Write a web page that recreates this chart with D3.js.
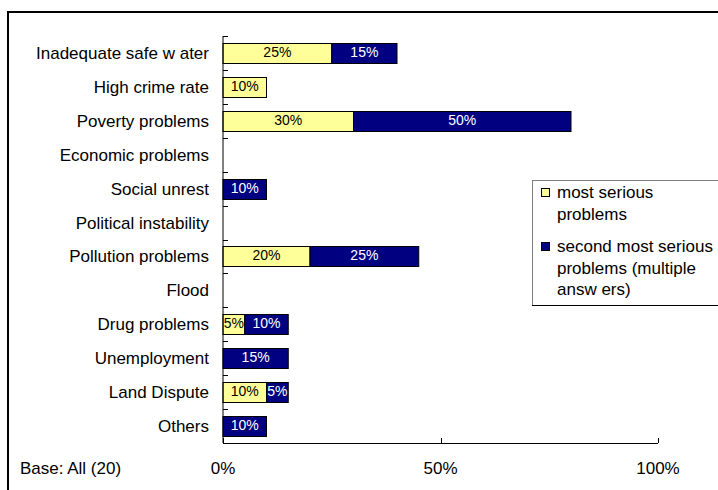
<!DOCTYPE html>
<html>
<head>
<meta charset="utf-8">
<script src="https://cdn.jsdelivr.net/npm/d3@7"></script>
<style>
  body { margin: 0; background: #fff; }
  svg { display: block; font-family: "Liberation Sans", Arial, sans-serif; }
</style>
</head>
<body>
<div id="chart"></div>
<script>
// categories, top to bottom
const categories = [
    'Inadequate safe w ater', 'High crime rate', 'Poverty problems', 'Economic problems',
    'Social unrest', 'Political instability', 'Pollution problems', 'Flood',
    'Drug problems', 'Unemployment', 'Land Dispute', 'Others'
];
// most serious problems (%)
const mostSerious = [25, 10, 30, 0, 0, 0, 20, 0, 5, 0, 10, 0];
// second most serious problems (%)
const secondSerious = [15, 0, 50, 0, 10, 0, 25, 0, 10, 15, 5, 10];
const xTicks = [0, 50, 100];
const seriesNames = [['most serious', 'problems'], ['second most serious', 'problems (multiple', 'answ ers)']];
const note = 'Base: All (20)';

const width = 718;
const height = 490;
const plotLeft = 223, plotRight = 658, plotTop = 36, plotBottom = 443;
const colors = ['#FFFF99', '#000080'];
const labelColors = ['#000', '#fff'];

const svg = d3.select('#chart')
    .append('svg')
    .attr('width', width)
    .attr('height', height);

// outer frame (cut off at right and bottom)
svg.append('rect')
    .attr('x', 8).attr('y', 12)
    .attr('width', 740).attr('height', 520)
    .attr('fill', 'none')
    .attr('stroke', '#000')
    .attr('stroke-width', 2);

const xScale = d3.scaleLinear().domain([0, 100]).range([plotLeft, plotRight]);
const yScale = d3.scaleBand()
    .domain(categories)
    .range([plotTop, plotBottom])
    .paddingInner(0.41)
    .paddingOuter(0.205);
const step = yScale.step();

// stacked data
const rows = categories.map((c, i) => ({ cat: c, vals: [mostSerious[i], secondSerious[i]] }));
const segs = [];
rows.forEach(r => {
    let x0 = 0;
    r.vals.forEach((v, k) => {
        if (v > 0) segs.push({ cat: r.cat, k: k, x0: x0, x1: x0 + v, v: v });
        x0 += v;
    });
});

svg.selectAll('rect.seg')
    .data(segs)
    .enter()
    .append('rect')
    .classed('seg', true)
    .attr('x', d => xScale(d.x0))
    .attr('y', d => Math.round(yScale(d.cat)) + 0.5)
    .attr('width', d => xScale(d.x1) - xScale(d.x0))
    .attr('height', Math.round(yScale.bandwidth()))
    .attr('fill', d => colors[d.k])
    .attr('stroke', '#000')
    .attr('stroke-width', 1);

svg.selectAll('text.seg-label')
    .data(segs)
    .enter()
    .append('text')
    .classed('seg-label', true)
    .attr('x', d => (xScale(d.x0) + xScale(d.x1)) / 2)
    .attr('y', d => yScale(d.cat) + yScale.bandwidth() / 2 + 4)
    .attr('text-anchor', 'middle')
    .attr('font-size', 14)
    .attr('fill', d => labelColors[d.k])
    .text(d => d.v + '%');

// category axis
const yAxis = svg.append('g');
yAxis.append('line')
    .attr('x1', plotLeft).attr('x2', plotLeft)
    .attr('y1', plotTop).attr('y2', plotBottom)
    .attr('stroke', '#000');
yAxis.selectAll('line.tick')
    .data(categories)
    .enter()
    .append('line')
    .classed('tick', true)
    .attr('x1', plotLeft).attr('x2', plotLeft + 5)
    .attr('y1', d => Math.round(yScale(d) - yScale.paddingOuter() * step) + 0.5)
    .attr('y2', d => Math.round(yScale(d) - yScale.paddingOuter() * step) + 0.5)
    .attr('stroke', '#000');
yAxis.selectAll('text')
    .data(categories)
    .enter()
    .append('text')
    .attr('x', 209)
    .attr('y', d => yScale(d) + yScale.bandwidth() / 2 + 6)
    .attr('text-anchor', 'end')
    .attr('font-size', 17)
    .attr('fill', '#000')
    .text(d => d);

// value axis
const xAxis = svg.append('g');
xAxis.append('line')
    .attr('x1', plotLeft).attr('x2', plotRight)
    .attr('y1', plotBottom + 0.5).attr('y2', plotBottom + 0.5)
    .attr('stroke', '#000');
xAxis.selectAll('line.tick')
    .data(xTicks)
    .enter()
    .append('line')
    .classed('tick', true)
    .attr('x1', d => Math.round(xScale(d)) + 0.5)
    .attr('x2', d => Math.round(xScale(d)) + 0.5)
    .attr('y1', plotBottom - 5).attr('y2', plotBottom)
    .attr('stroke', '#000');
xAxis.selectAll('text')
    .data(xTicks)
    .enter()
    .append('text')
    .attr('x', d => xScale(d))
    .attr('y', 474)
    .attr('text-anchor', 'middle')
    .attr('font-size', 17)
    .attr('fill', '#000')
    .text(d => d + '%');

svg.append('text')
    .attr('x', 20)
    .attr('y', 474)
    .attr('font-size', 17)
    .attr('fill', '#000')
    .text(note);

// legend
const legend = svg.append('g');
legend.append('rect')
    .attr('x', 532.5).attr('y', 180.5)
    .attr('width', 200).attr('height', 125)
    .attr('fill', '#fff')
    .attr('stroke', '#808080');
legend.append('line')
    .attr('x1', 532).attr('x2', 718)
    .attr('y1', 305.5).attr('y2', 305.5)
    .attr('stroke', '#000');

const legendY = [198, 252];
seriesNames.forEach((lines, k) => {
    legend.append('rect')
        .attr('x', 541.5).attr('y', legendY[k] - 9.5)
        .attr('width', 8).attr('height', 8)
        .attr('fill', colors[k])
        .attr('stroke', '#000');
    lines.forEach((t, j) => {
        legend.append('text')
            .attr('x', 557)
            .attr('y', legendY[k] + j * 21.5)
            .attr('font-size', 17)
            .attr('fill', '#000')
            .text(t);
    });
});
</script>
</body>
</html>
